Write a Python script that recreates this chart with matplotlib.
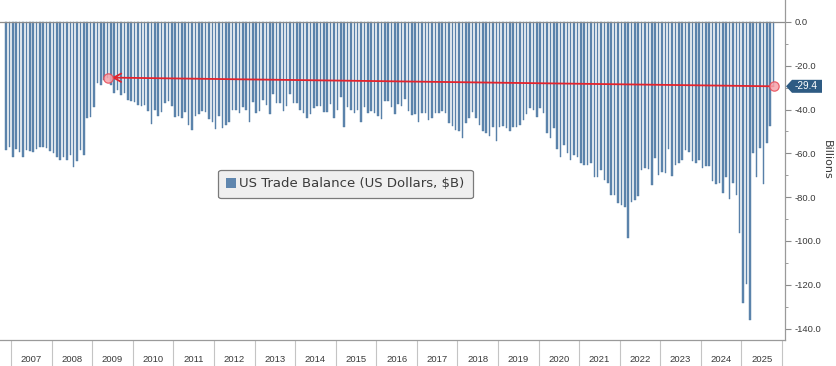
import matplotlib
matplotlib.use("Agg")
import matplotlib.pyplot as plt
from matplotlib.patches import Patch, Polygon
from matplotlib.transforms import blended_transform_factory
import numpy as np

# monthly US trade balance, $B, Nov 2006 .. Oct 2025
bal_2006 = [-58.4, -57.2]
bal_2007 = [-61.5, -58.1, -59.2, -61.8, -58.4, -58.7, -59.2, -58.1, -57.2, -57.2, -57.7, -58.7]
bal_2008 = [-60.0, -61.8, -63.0, -61.8, -63.0, -60.7, -66.4, -63.3, -58.4, -60.7, -44.0, -43.2]
bal_2009 = [-38.7, -28.0, -28.8, -26.5, -25.4, -28.8, -32.6, -31.0, -33.3, -32.6, -35.6, -36.0]
bal_2010 = [-36.5, -38.0, -38.5, -38.0, -40.5, -46.5, -40.0, -43.0, -41.0, -37.0, -36.0, -38.5]
bal_2011 = [-43.5, -43.0, -44.0, -41.0, -47.0, -49.5, -43.0, -42.0, -40.5, -41.0, -44.5, -45.5]
bal_2012 = [-49.0, -43.0, -48.5, -47.0, -45.5, -40.0, -40.0, -41.5, -39.0, -40.0, -45.5, -36.5]
bal_2013 = [-41.5, -40.5, -35.5, -38.0, -42.0, -33.0, -37.0, -37.0, -40.5, -38.5, -33.0, -37.0]
bal_2014 = [-37.0, -40.0, -41.5, -44.0, -42.0, -39.5, -38.5, -38.5, -41.0, -41.0, -37.5, -44.0]
bal_2015 = [-40.0, -34.5, -48.0, -39.0, -40.0, -41.5, -40.0, -45.5, -39.0, -41.5, -40.5, -41.5]
bal_2016 = [-43.0, -44.5, -36.0, -36.0, -39.0, -42.0, -37.5, -38.5, -35.0, -40.5, -42.5, -42.0]
bal_2017 = [-45.5, -41.5, -41.5, -45.0, -44.0, -41.5, -41.5, -40.5, -41.5, -46.0, -47.5, -49.5]
bal_2018 = [-50.0, -53.0, -46.0, -44.0, -41.0, -44.0, -47.0, -50.0, -50.5, -52.0, -48.0, -54.5]
bal_2019 = [-48.0, -47.5, -48.5, -50.0, -48.0, -48.0, -47.0, -45.0, -42.0, -39.5, -40.0, -43.5]
bal_2020 = [-39.4, -41.7, -50.8, -53.1, -48.5, -58.1, -61.5, -56.2, -60.0, -63.0, -60.7, -61.5]
bal_2021 = [-64.5, -65.3, -65.3, -64.5, -70.6, -70.6, -67.6, -72.1, -73.7, -79.0, -79.0, -82.8]
bal_2022 = [-83.6, -84.3, -98.8, -82.0, -81.3, -79.4, -67.6, -66.8, -67.3, -74.4, -62.2, -69.9]
bal_2023 = [-68.3, -68.8, -58.1, -70.3, -65.3, -64.5, -63.0, -58.4, -59.2, -63.3, -64.5, -63.0]
bal_2024 = [-66.5, -66.0, -66.0, -72.6, -74.0, -73.4, -78.2, -70.6, -81.0, -73.7, -79.0, -96.5]
bal_2025 = [-128.2, -119.6, -136.1, -60.0, -70.6, -57.7, -74.0, -55.4, -47.5, -29.4]

years = [str(y) for y in range(2007, 2026)]
legend_label = "US Trade Balance (US Dollars, $B)"
compare_idx = 30  # May 2009

balance = np.array(bal_2006 + bal_2007 + bal_2008 + bal_2009 + bal_2010 + bal_2011
                   + bal_2012 + bal_2013 + bal_2014 + bal_2015 + bal_2016 + bal_2017
                   + bal_2018 + bal_2019 + bal_2020 + bal_2021 + bal_2022 + bal_2023
                   + bal_2024 + bal_2025)
months = np.arange(len(balance))
first_jan = len(bal_2006)

bar_col = "#5f86ae"
grey = "#8c8c8c"
txt = "#3a3a3a"

fig = plt.figure(figsize=(8.37, 3.66), dpi=100)
ax = fig.add_axes([0, 26 / 366, 785 / 837, 340 / 366])

ax.bar(months, balance, width=0.46, color=bar_col, edgecolor="#4f79a3", linewidth=0.3, zorder=2)
ax.axhline(0, color=grey, lw=0.9, zorder=3)

ax.set_xlim(-1.8, 230.4)
ax.set_ylim(-145.2, 10)

# y axis on the right
ax.yaxis.tick_right()
yt = np.arange(0, -141, -20)
ax.set_yticks(yt)
ax.set_yticklabels([f"{v:.1f}" for v in yt], fontsize=6.8, color=txt, family="Liberation Sans")
ax.set_yticks(np.arange(-10, -141, -20), minor=True)
ax.tick_params(axis="y", which="major", length=4, width=0.8, color=grey, pad=3)
ax.tick_params(axis="y", which="minor", length=2.5, width=0.6, color=grey)
fig.text(827 / 837, 1 - 160 / 366, "Billions", rotation=270, ha="center", va="center",
         fontsize=8, color=txt)

# year boxes along the bottom
bounds = first_jan - 0.5 + 12 * np.arange(len(years) + 1)
ax.set_xticks(bounds)
ax.set_xticklabels([])
ax.set_xticks(bounds[:-1] + 6, minor=True)
ax.set_xticklabels(years, minor=True, fontsize=6.8, color=txt, family="Liberation Sans")
ax.tick_params(axis="x", which="major", length=19, width=0.8, color="#c4c4c4")
ax.tick_params(axis="x", which="minor", length=0, pad=11)

for s in ["left", "top"]:
    ax.spines[s].set_visible(False)
ax.spines["right"].set_color("#9a9a9a")
ax.spines["bottom"].set_color("#9a9a9a")
ax.spines["right"].set_linewidth(0.9)
ax.spines["bottom"].set_linewidth(0.9)

# red comparison arrow
last = len(balance) - 1
ax.annotate("", xy=(compare_idx, balance[compare_idx]), xytext=(last, balance[last]),
            arrowprops=dict(arrowstyle="->,head_length=0.55,head_width=0.3", color="#e3232c",
                            lw=1.3, shrinkA=0, shrinkB=3), zorder=5)
ax.scatter([compare_idx, last], [balance[compare_idx], balance[last]], s=45,
           facecolor="#f6a3ab", edgecolor="#e84c57", linewidth=0.9, alpha=0.85, zorder=6)

# last value tag
tr = blended_transform_factory(ax.transAxes, ax.transData)
x0, y0 = tr.transform((1, balance[last]))
pts = [(x0 + 1, y0), (x0 + 7, y0 + 6.5), (x0 + 37, y0 + 6.5), (x0 + 37, y0 - 6.5), (x0 + 7, y0 - 6.5)]
pts = fig.transFigure.inverted().transform(pts)
fig.patches.append(Polygon(pts, closed=True, transform=fig.transFigure, facecolor="#2e5b83",
                           edgecolor="none"))
cx, cy = fig.transFigure.inverted().transform((x0 + 21, y0))
fig.text(cx, cy, f"{balance[last]:.1f}", color="white", fontsize=7.2, ha="center", va="center",
         family="Liberation Sans")

leg = ax.legend([Patch(facecolor=bar_col)], [legend_label], loc="center",
                bbox_to_anchor=(0.44, 0.459), fontsize=9.5, handlelength=0.75, handleheight=0.75,
                handletextpad=0.25, borderpad=0.6, fancybox=True, framealpha=1)
leg.get_frame().set_facecolor("#efefef")
leg.get_frame().set_edgecolor("#7a7a7a")
leg.get_frame().set_linewidth(0.9)
for t in leg.get_texts():
    t.set_color(txt)

fig.savefig("out.png", dpi=100)
